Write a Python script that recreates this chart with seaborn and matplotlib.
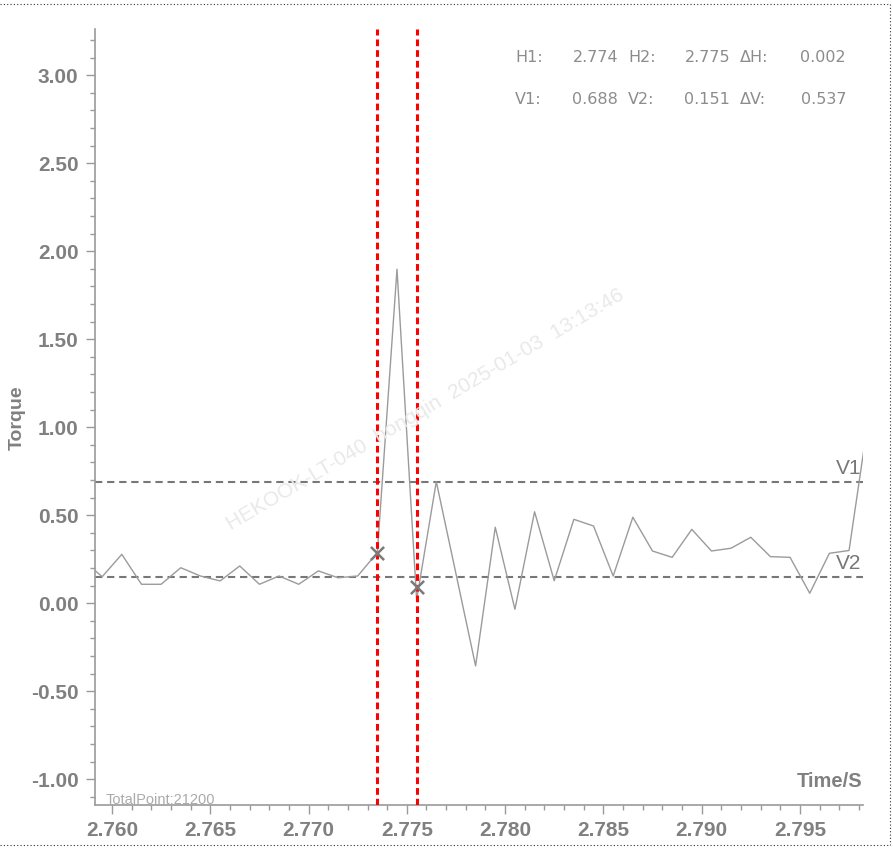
import numpy as np
import pandas as pd
import matplotlib
matplotlib.use("Agg")
import matplotlib.pyplot as plt
import seaborn as sns
from matplotlib.ticker import MultipleLocator, FixedLocator, FormatStrFormatter
from matplotlib.lines import Line2D

# ---------------- data ----------------
time_s = [2.7585, 2.7595, 2.7605, 2.7615, 2.7625, 2.7635, 2.7645, 2.7655,
          2.7665, 2.7675, 2.7685, 2.7695, 2.7705, 2.7715, 2.7725, 2.7735,
          2.7745, 2.7755, 2.7765, 2.7775, 2.7785, 2.7795, 2.7805, 2.7815,
          2.7825, 2.7835, 2.7845, 2.7855, 2.7865, 2.7875, 2.7885, 2.7895,
          2.7905, 2.7915, 2.7925, 2.7935, 2.7945, 2.7955, 2.7965, 2.7975,
          2.7985]
torque = [0.247, 0.151, 0.278, 0.108, 0.108, 0.202, 0.155, 0.127,
          0.212, 0.108, 0.155, 0.108, 0.184, 0.145, 0.155, 0.288,
          1.898, 0.020, 0.691, 0.168, -0.356, 0.432, -0.034, 0.520,
          0.128, 0.477, 0.439, 0.155, 0.489, 0.297, 0.261, 0.420,
          0.297, 0.313, 0.375, 0.265, 0.261, 0.057, 0.284, 0.300,
          1.060]

cursor_h = [2.7735, 2.7755]          # red vertical cursors H1, H2
cursor_v = [0.688, 0.151]            # grey horizontal cursors V1, V2
cursor_v_labels = ["V1", "V2"]
marker_t = [2.7735, 2.7755]
marker_v = [0.288, 0.091]

x_ticks = [2.760, 2.765, 2.770, 2.775, 2.780, 2.785, 2.790, 2.795]
y_ticks = [-1.00, -0.50, 0.00, 0.50, 1.00, 1.50, 2.00, 2.50, 3.00]

readout_labels = [["H1:", "H2:", "\u0394H:"], ["V1:", "V2:", "\u0394V:"]]
readout_values = [["2.774", "2.775", "0.002"], ["0.688", "0.151", "0.537"]]

total_points_text = "TotalPoint:21200"
watermark_text = "HEKOOK-LT-040  hongqin  2025-01-03  13:13:46"

# ---------------- style ----------------
sns.set_style("white")
plt.rcParams['font.family'] = ['Liberation Sans', 'DejaVu Sans']

W, H = 893, 848
fx = lambda px: px / W
fy = lambda py: 1 - py / H

fig = plt.figure(figsize=(W / 100, H / 100), dpi=100)
ax = fig.add_axes([fx(94.5), fy(805), fx(863) - fx(94.5), fy(29.3) - fy(805)])

df = pd.DataFrame({"Time/S": time_s, "Torque": torque})
sns.lineplot(data=df, x="Time/S", y="Torque", ax=ax, color="#9b9b9b",
             linewidth=1.0, sort=False, estimator=None, zorder=3)

for v in cursor_v:
    ax.axhline(v, color="#777777", lw=1.5, dashes=(3.5, 2.3), zorder=2)
for h in cursor_h:
    ax.axvline(h, color="#ff0000", lw=2.2, dashes=(2.2, 1.3), zorder=4)

sns.scatterplot(x=marker_t, y=marker_v, marker="x", s=90, color="#7a7a7a",
                linewidth=1.8, ax=ax, zorder=5, legend=False)

ax.set_xlim(2.75911, 2.79821)
ax.set_ylim(-1.146, 3.261)

ax.xaxis.set_major_locator(FixedLocator(x_ticks))
ax.xaxis.set_minor_locator(MultipleLocator(0.001))
ax.yaxis.set_major_locator(FixedLocator(y_ticks))
ax.yaxis.set_minor_locator(MultipleLocator(0.1))
ax.xaxis.set_major_formatter(FormatStrFormatter("%.3f"))
ax.yaxis.set_major_formatter(FormatStrFormatter("%.2f"))

for s in ["top", "right"]:
    ax.spines[s].set_visible(False)
for s in ["left", "bottom"]:
    ax.spines[s].set_color("#9a9a9a")
    ax.spines[s].set_linewidth(1.2)

ax.tick_params(axis="both", which="both", bottom=True, left=True,
               top=False, right=False)
ax.tick_params(axis="both", which="major", direction="out", length=6.5,
               width=1.0, color="#9a9a9a", labelcolor="#808080",
               labelsize=15)
ax.tick_params(axis="both", which="minor", direction="out", length=3.6,
               width=1.0, color="#9a9a9a")
ax.tick_params(axis="y", which="major", pad=5)
ax.tick_params(axis="x", which="major", pad=5)
for lab in ax.get_xticklabels() + ax.get_yticklabels():
    lab.set_fontweight("bold")

ax.set_xlabel("")
ax.set_ylabel("")
fig.text(fx(17), fy(418), "Torque", rotation=90, ha="center", va="center",
         fontsize=14, fontweight="bold", color="#808080")
ax.text(0.999, 0.018, "Time/S", transform=ax.transAxes, ha="right",
        va="bottom", fontsize=14.5, fontweight="bold", color="#808080")
ax.text(0.014, -0.002, total_points_text, transform=ax.transAxes, ha="left",
        va="bottom", fontsize=10.5, color="#aaaaaa")

# V1 / V2 labels at right end of horizontal cursors
for v, lab in zip(cursor_v, cursor_v_labels):
    ax.annotate(lab, xy=(1.0, v), xycoords=("axes fraction", "data"),
                xytext=(-1, 3), textcoords="offset points", ha="right",
                va="bottom", fontsize=15, color="#777777")

# readout block (top right)
label_x = [515, 628, 740]
value_right = [618, 730, 846]
row_y = [57, 99]
for r in range(2):
    for c in range(3):
        fig.text(fx(label_x[c]), fy(row_y[r]), readout_labels[r][c],
                 ha="left", va="center", fontsize=11.5, color="#8c8c8c",
                 family=["DejaVu Sans"])
        fig.text(fx(value_right[c]), fy(row_y[r]), readout_values[r][c],
                 ha="right", va="center", fontsize=11.5, color="#8c8c8c",
                 family=["DejaVu Sans"])

# watermark
fig.text(fx(425), fy(410), watermark_text, rotation=30.5, ha="center",
         va="center", rotation_mode="anchor", fontsize=15,
         color="#e9e9e9", zorder=0)

# dotted frame around the picture
frame_kw = dict(transform=fig.transFigure, color="#333333", lw=0.8,
                ls=(0, (1, 2)))
fig.add_artist(Line2D([0, fx(890)], [fy(4), fy(4)], **frame_kw))
fig.add_artist(Line2D([fx(890), fx(890)], [fy(4), fy(845)], **frame_kw))
fig.add_artist(Line2D([0, fx(890)], [fy(845), fy(845)], **frame_kw))

fig.savefig("out.png", dpi=100)
